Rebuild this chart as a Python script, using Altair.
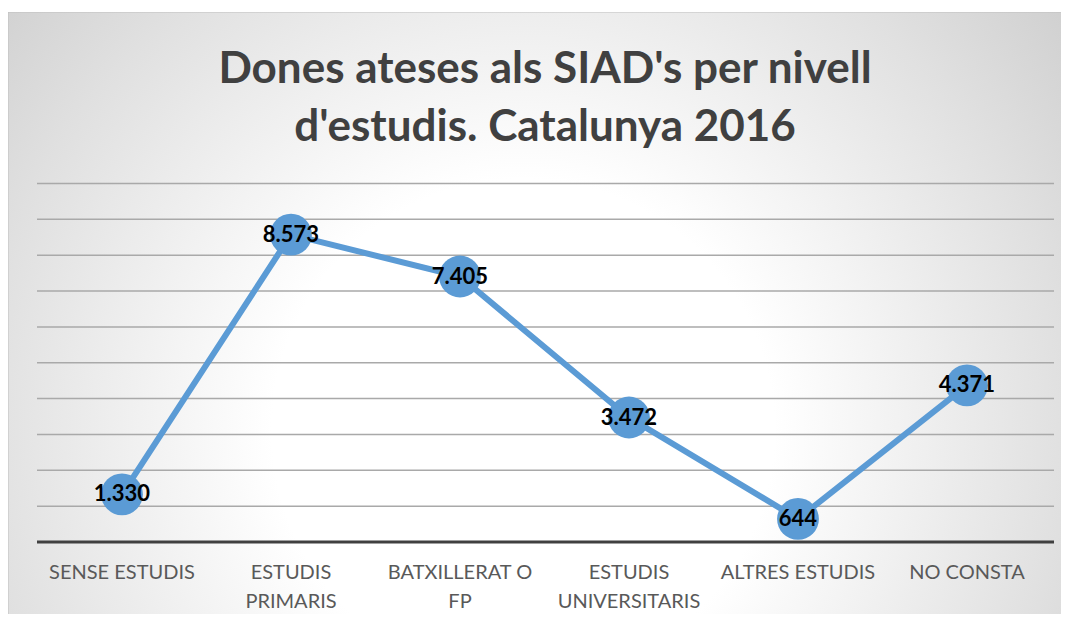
import altair as alt
import pandas as pd

# ---- data -------------------------------------------------------------
categories = ["SENSE ESTUDIS", "ESTUDIS PRIMARIS", "BATXILLERAT O FP",
              "ESTUDIS UNIVERSITARIS", "ALTRES ESTUDIS", "NO CONSTA"]
label_lines = [["SENSE ESTUDIS"], ["ESTUDIS", "PRIMARIS"], ["BATXILLERAT O", "FP"],
               ["ESTUDIS", "UNIVERSITARIS"], ["ALTRES ESTUDIS"], ["NO CONSTA"]]
values = [1330, 8573, 7405, 3472, 644, 4371]
value_labels = ["1.330", "8.573", "7.405", "3.472", "644", "4.371"]
grid_values = [1000, 2000, 3000, 4000, 5000, 6000, 7000, 8000, 9000, 10000]
title_lines = ["Dones ateses als SIAD's per nivell", "d'estudis. Catalunya 2016"]

df = pd.DataFrame({"cat": categories, "value": values,
                   "lab": value_labels, "lines": label_lines})
grid_df = pd.DataFrame({"v": grid_values})
zero_df = pd.DataFrame({"v": [0]})
title_df = pd.DataFrame({"t": [title_lines]})
bg_df = pd.DataFrame({"k": [0]})

W, H = 1053, 602
BLUE = "#5B9BD5"
FONT = "Lato"

yscale = alt.Scale(domain=[-2008, 14784], nice=False, zero=False)
xscale = alt.Scale(type="point", domain=categories, padding=0.6154, align=0.548)

gradient = alt.RadialGradient(
    gradient="radial", x1=0.48, y1=0.6, r1=0, x2=0.48, y2=0.6, r2=0.78,
    stops=[alt.GradientStop(offset=0, color="#ffffff"),
           alt.GradientStop(offset=0.3, color="#ffffff"),
           alt.GradientStop(offset=0.65, color="#e0e0e0"),
           alt.GradientStop(offset=1, color="#bfbfbf")])

bg = alt.Chart(bg_df).mark_rect(fill=gradient, stroke="#bfbfbf", strokeWidth=1).encode(
    x=alt.value(0), x2=alt.value(W + 20), y=alt.value(0), y2=alt.value(H + 20))

grid = alt.Chart(grid_df).mark_rule(color="#a9a9a9", strokeWidth=1.5).encode(
    y=alt.Y("v:Q", scale=yscale, axis=None),
    x=alt.value(29), x2=alt.value(1046))

axis_line = alt.Chart(zero_df).mark_rule(color="#404040", strokeWidth=3).encode(
    y=alt.Y("v:Q", scale=yscale, axis=None),
    x=alt.value(29), x2=alt.value(1046))

base = alt.Chart(df).encode(
    x=alt.X("cat:N", scale=xscale, axis=None, sort=categories),
    y=alt.Y("value:Q", scale=yscale, axis=None))

line = base.mark_line(color=BLUE, strokeWidth=6)
points = base.mark_circle(color=BLUE, size=1750, opacity=1)
labels = base.mark_text(font=FONT, fontSize=22, fontWeight="bold", color="black",
                        baseline="middle", align="center").encode(text="lab:N")

xlabels = alt.Chart(df).mark_text(font=FONT, fontSize=20, color="#595959",
                                  baseline="top", align="center", lineHeight=29).encode(
    x=alt.X("cat:N", scale=xscale, axis=None, sort=categories),
    y=alt.value(551),
    text="lines")

title = alt.Chart(title_df).mark_text(font=FONT, fontSize=44, fontWeight="bold",
                                      color="#404040", align="center",
                                      baseline="alphabetic", lineHeight=58).encode(
    x=alt.value(537), y=alt.value(71), text="t")

chart = alt.layer(bg, grid, axis_line, line, points, labels, xlabels, title).properties(
    width=W, height=H,
    autosize=alt.AutoSizeParams(type="none"),
    padding={"left": 0, "top": 4, "right": 0, "bottom": 0},
    background="white",
).configure_view(stroke=None, clip=True)

chart.save("out.html", embed_options={"renderer": "svg", "actions": False})
